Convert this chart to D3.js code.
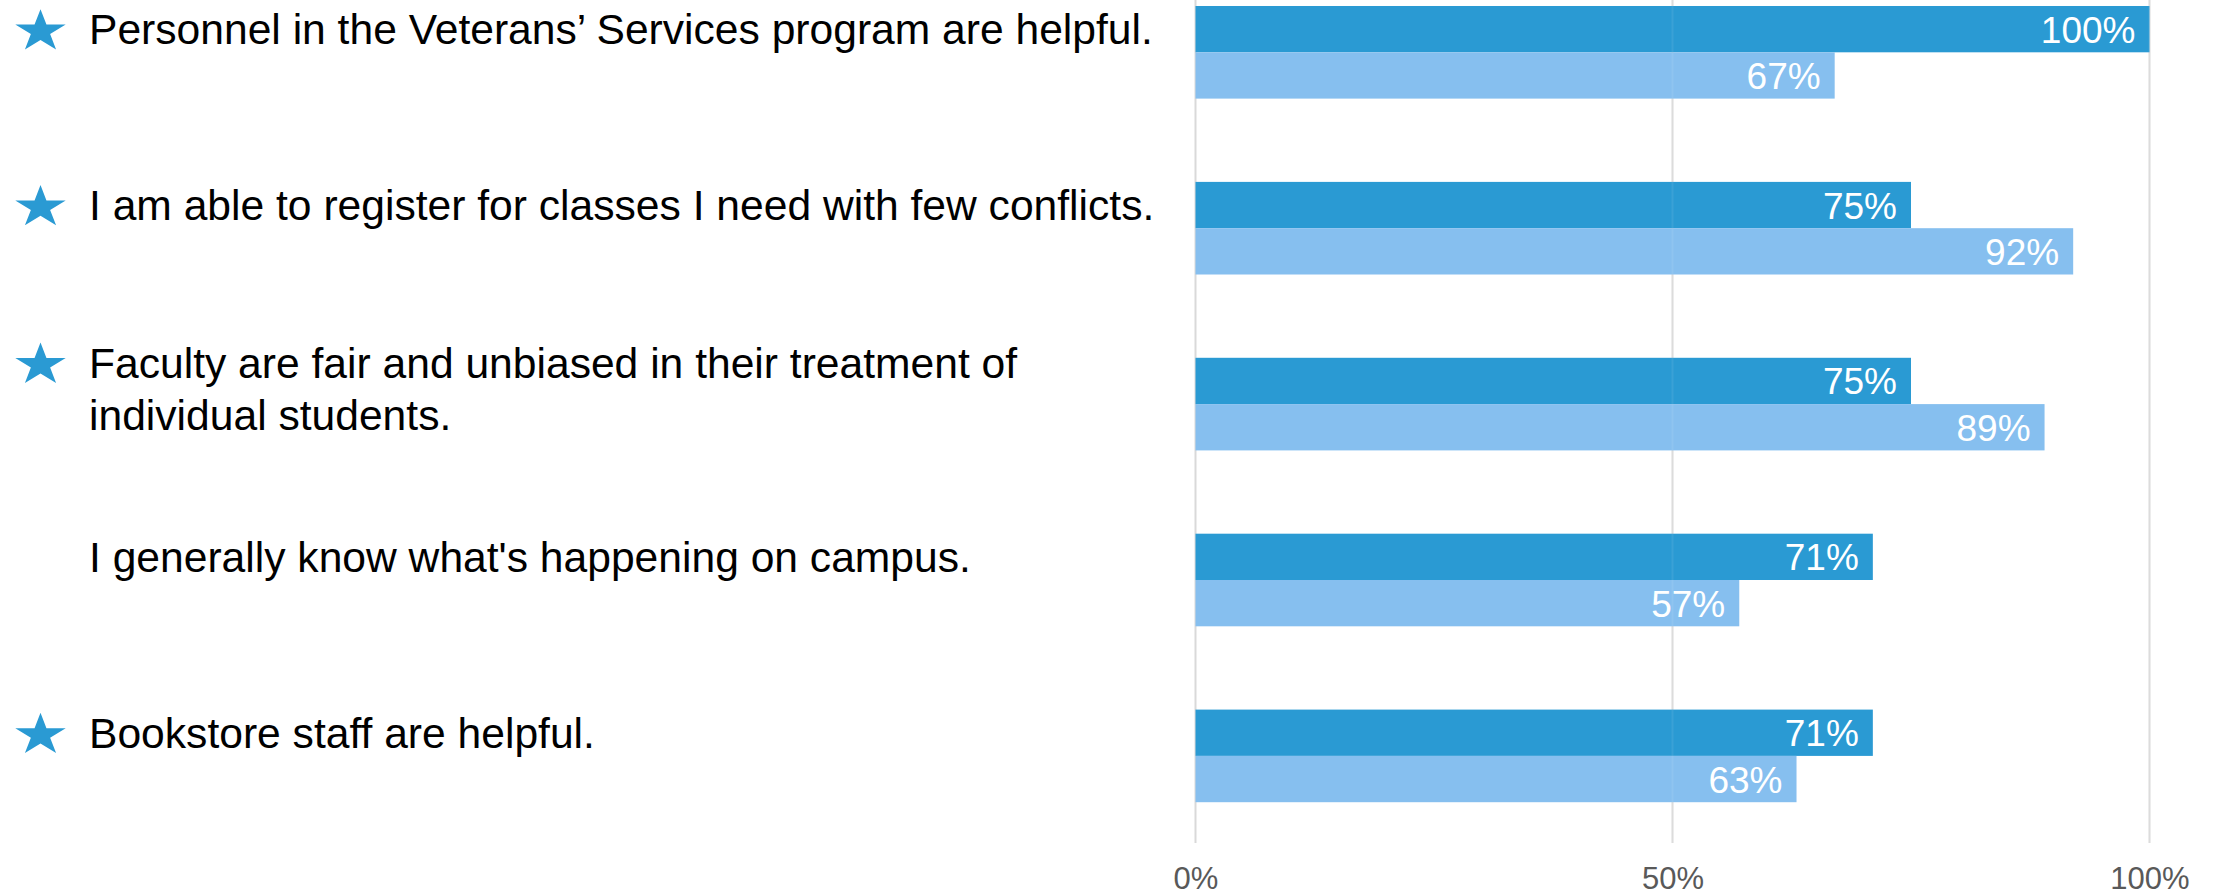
<!DOCTYPE html>
<html>
<head>
<meta charset="utf-8">
<script src="https://cdn.jsdelivr.net/npm/d3@7"></script>
<style>
  html, body { margin: 0; padding: 0; background: #ffffff; }
  svg { display: block; }
</style>
</head>
<body>
<svg id="chart" width="2216" height="896"></svg>
<script>
// Survey statements (each entry holds the lines of the label)
const statements = [
  ["Personnel in the Veterans\u2019 Services program are helpful."],
  ["I am able to register for classes I need with few conflicts."],
  ["Faculty are fair and unbiased in their treatment of", "individual students."],
  ["I generally know what's happening on campus."],
  ["Bookstore staff are helpful."]
];
// Statements marked with a star
const starred = [true, true, true, false, true];
// Percent agreeing, two respondent groups
const groupA = [100, 75, 75, 71, 71];
const groupB = [67, 92, 89, 57, 63];
// Axis ticks
const tickValues = [0, 50, 100];
const tickLabels = ["0%", "50%", "100%"];

const seriesKeys = ["groupA", "groupB"];
const colors = { groupA: "#2A9AD3", groupB: "#86BFEF" };

const svg = d3.select("#chart");
const font = "Liberation Sans, Arial, Helvetica, sans-serif";

const ids = statements.map((d, i) => "s" + i);
const rows = ids.map((id, i) => ({
  id, lines: statements[i], star: starred[i],
  values: { groupA: groupA[i], groupB: groupB[i] }
}));

const x = d3.scaleLinear().domain([0, 100]).range([1195.5, 2149.5]);
const y = d3.scaleBand().domain(ids).range([-35.65, 843.85])
  .paddingInner(0.4735).paddingOuter(0.23675);
const ySub = d3.scaleBand().domain(seriesKeys).range([0, y.bandwidth()]);

// Vertical gridlines
svg.append("g").selectAll("line").data(tickValues).join("line")
  .attr("x1", d => x(d)).attr("x2", d => x(d))
  .attr("y1", 0).attr("y2", 843)
  .attr("stroke", "#d9d9d9").attr("stroke-width", 2);

// Bars
const groups = svg.append("g").selectAll("g").data(rows).join("g")
  .attr("transform", d => `translate(0,${y(d.id)})`);

groups.selectAll("rect").data(d => seriesKeys.map(k => ({ k, v: d.values[k] }))).join("rect")
  .attr("x", x(0))
  .attr("y", d => ySub(d.k))
  .attr("width", d => x(d.v) - x(0))
  .attr("height", ySub.bandwidth())
  .attr("fill", d => colors[d.k]);

// Faint gridline trace over bars
svg.append("g").selectAll("line").data(tickValues.filter(v => v > 0)).join("line")
  .attr("x1", d => x(d)).attr("x2", d => x(d))
  .attr("y1", 0).attr("y2", 843)
  .attr("stroke", "#ffffff").attr("stroke-opacity", 0.08).attr("stroke-width", 2);

// Value labels inside bar ends
groups.selectAll("text").data(d => seriesKeys.map(k => ({ k, v: d.values[k] }))).join("text")
  .attr("x", d => x(d.v) - 14)
  .attr("y", d => ySub(d.k) + ySub.bandwidth() / 2 + 13.5)
  .attr("text-anchor", "end")
  .attr("fill", "#ffffff")
  .style("font-family", font)
  .style("font-size", "37px")
  .text(d => d.v + "%");

// Axis tick labels
const xAxis = d3.axisBottom(x).tickValues(tickValues)
  .tickFormat((d, i) => tickLabels[i]).tickSize(0).tickPadding(0);
const axisG = svg.append("g").attr("transform", "translate(0,889)").call(xAxis);
axisG.select(".domain").remove();
axisG.selectAll("text")
  .attr("dy", 0).attr("y", 0)
  .attr("fill", "#595959")
  .style("font-family", font)
  .style("font-size", "31px");

// Statement labels with optional star marker
const lineH = 52.7;
const labels = svg.append("g").selectAll("g").data(rows).join("g");

labels.each(function (d) {
  const g = d3.select(this);
  const center = y(d.id) + y.bandwidth() / 2;
  const n = d.lines.length;
  const firstBase = n === 1 ? center - 8 : center - lineH / 2;
  const t = g.append("text")
    .attr("x", 89)
    .attr("fill", "#000000")
    .style("font-family", font)
    .style("font-size", "42.6px");
  d.lines.forEach((line, i) => {
    t.append("tspan").attr("x", 89).attr("y", firstBase + i * lineH).text(line);
  });
  if (d.star) {
    const R = 26.5, r = R * 0.382;
    const pts = d3.range(10).map(i => {
      const a = (-90 + 36 * i) * Math.PI / 180;
      const rad = i % 2 === 0 ? R : r;
      return [rad * Math.cos(a), rad * Math.sin(a)];
    });
    const sy = 0.84;
    const cy = firstBase - 15 + 0.0955 * R * sy;
    g.append("path")
      .attr("d", d3.line()(pts) + "Z")
      .attr("transform", `translate(40.5,${cy}) scale(1,${sy})`)
      .attr("fill", "#2A9AD3");
  }
});
</script>
</body>
</html>
